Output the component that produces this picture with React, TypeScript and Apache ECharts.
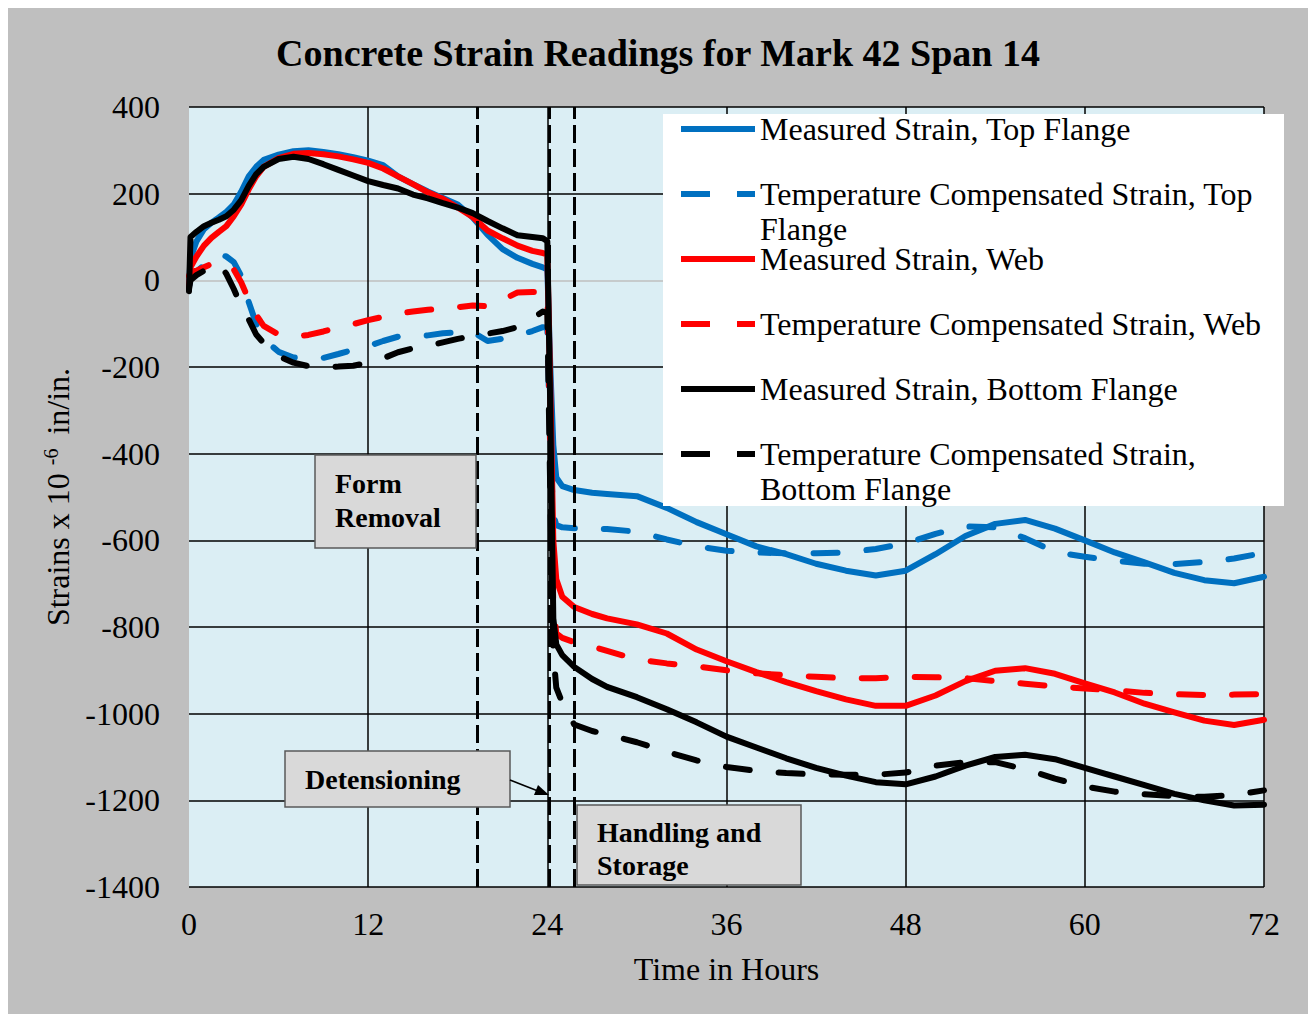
import { useEffect, useRef } from "react";
import * as echarts from "echarts";

// Elapsed time (hours) shared by every strain trace
const HOURS = [
  0, 0.1, 0.5, 1, 1.5, 2, 2.5, 3, 3.5, 4, 4.5, 5,
  6, 7, 8, 9, 10, 11, 12, 13, 14, 15, 16, 17, 18, 19, 20, 21, 22, 23,
  23.7, 24.0, 24.2, 24.4, 24.6, 25, 25.8,
  27, 28,
  30, 32, 34, 36, 38, 40, 42, 44, 46, 48, 50, 52, 54, 56, 58, 60, 62, 64, 66, 68, 70, 72,
];

// Strains x 10^-6 in/in.
const MEASURED_TOP = [
  -15, 50, 90, 118, 133, 145, 158, 175, 205, 240, 262, 278,
  290, 298, 300, 296, 291, 284, 276, 266, 240, 222, 205, 190, 175, 145, 105, 72, 52, 38,
  30, 25, -200, -380, -455, -475, -484,
  -490, -493,
  -498, -525, -558, -586, -614, -632, -654, -670, -681, -670, -632, -590, -562, -553, -573, -600, -628, -651, -675, -692, -699, -684,
];
const COMPENSATED_TOP = [
  -15, 5, 20, 35, 52, 60, 55, 42, 10, -50, -100, -135,
  -165, -178, -180, -179, -170, -160, -152, -140, -130, -130, -127, -122, -120, -119, -140, -135, -127, -117,
  -108, -110, -400, -540, -565, -570, -572,
  -573, -574,
  -580, -598, -614, -624, -628, -630, -630, -628, -620, -607, -585, -568, -570, -595, -627, -638, -647, -654, -655, -650, -642, -629,
];
const MEASURED_WEB = [
  -15, 30, 55, 80, 98, 112, 125, 148, 175, 210, 240, 262,
  282, 292, 294, 291, 286, 279, 271, 258, 240, 222, 203, 188, 168, 146, 115, 97, 80, 68,
  63, 60, -250, -600, -690, -730, -754,
  -770, -780,
  -794, -815, -852, -879, -904, -927, -948, -967, -982, -982, -958, -925, -901, -895, -908, -930, -951, -977, -997, -1016, -1026, -1014,
];
const COMPENSATED_WEB = [
  10, 20, 22, 30, 38, 42, 40, 25, -5, -45, -80, -105,
  -125, -130, -126, -118, -108, -101, -92, -84, -76, -72, -68, -65, -62, -58, -60, -45, -28, -27,
  -27, -30, -400, -750, -815, -825, -835,
  -845, -855,
  -875, -884, -891, -900, -907, -911, -915, -918, -918, -915, -916, -918, -925, -931, -937, -942, -946, -952, -955, -957, -956, -955,
];
const MEASURED_BOTTOM = [
  -25, 100, 112, 125, 133, 140, 148, 163, 185, 218, 245, 262,
  280, 285, 280, 268, 255, 242, 229, 220, 212, 198, 189, 178, 168, 155, 137, 120, 104, 100,
  97, 90, -300, -780, -840, -865, -892,
  -920, -938,
  -962, -990, -1020, -1053, -1078, -1103, -1125, -1143, -1158, -1163, -1145, -1120, -1100, -1095, -1105, -1125, -1145, -1165, -1185, -1200, -1212, -1210,
];
const COMPENSATED_BOTTOM = [
  -20, 0, 12, 22, 32, 38, 15, -20, -60, -90, -125, -145,
  -175, -190, -198, -200, -199, -197, -190, -180, -166, -157, -152, -143, -135, -129, -123, -117, -108, -88,
  -72, -75, -500, -860, -940, -975, -1025,
  -1040, -1048,
  -1066, -1088, -1108, -1123, -1132, -1137, -1140, -1141, -1141, -1136, -1120, -1112, -1112, -1128, -1150, -1168, -1180, -1186, -1190, -1192, -1188, -1177,
];

const SERIES_NAMES = [
  "Measured Strain, Top Flange",
  "Temperature Compensated Strain, Top Flange",
  "Measured Strain, Web",
  "Temperature Compensated Strain, Web",
  "Measured Strain, Bottom Flange",
  "Temperature Compensated Strain, Bottom Flange",
];
const LEGEND_FIRST_LINES = [
  "Measured Strain, Top Flange",
  "Temperature Compensated Strain, Top",
  "Measured Strain, Web",
  "Temperature Compensated Strain, Web",
  "Measured Strain, Bottom Flange",
  "Temperature Compensated Strain,",
];
const LEGEND_SECOND_LINES = ["", "Flange", "", "", "", "Bottom Flange"];

// Construction events: form removal, detensioning, handling and storage
const EVENT_HOURS = [19.3, 24.13, 25.8];

const BLUE = "#0070c0";
const RED = "#ff0000";
const BLACK = "#000000";
const FONT = "'Liberation Serif', 'Times New Roman', serif";

const TRACES = [
  { values: MEASURED_TOP, color: BLUE, dashed: false },
  { values: COMPENSATED_TOP, color: BLUE, dashed: true },
  { values: MEASURED_WEB, color: RED, dashed: false },
  { values: COMPENSATED_WEB, color: RED, dashed: true },
  { values: MEASURED_BOTTOM, color: BLACK, dashed: false },
  { values: COMPENSATED_BOTTOM, color: BLACK, dashed: true },
];

// Layout (px, relative to the chart container)
const GRID = { left: 181, top: 99, width: 1075, height: 780 };
const LEGEND_LEFT = 673;
const LEGEND_TOP = 105;
const LEGEND_ROW = 32;
const LEGEND_GAP = 33;
const LEGEND_ICON_W = 74;
const LINE_W = 6;

// legend swatches: a bar for solid traces, two bars for dashed ones
const SOLID_ICON = "path://M0,0h74v6h-74z";
const DASHED_ICON = "path://M0,0h29v6h-29zM56,0h18v6h-18z";

export default function App() {
  const ref = useRef<HTMLDivElement>(null);

  useEffect(() => {
    const chart = echarts.init(ref.current!, undefined, { renderer: "svg" });

    // y split lines run from -1400 upward; the zero line is drawn grey
    const splitColors = [-1400, -1200, -1000, -800, -600, -400, -200, 0, 200, 400].map((v) =>
      v === 0 ? "#bfbfbf" : "#000000"
    );

    const series: any[] = TRACES.map((t, i) => ({
      name: SERIES_NAMES[i],
      type: "line",
      data: HOURS.map((h, k) => [h, t.values[k]]),
      symbol: "none",
      showSymbol: false,
      color: t.color,
      itemStyle: { color: t.color },
      lineStyle: {
        color: t.color,
        width: LINE_W,
        cap: "round",
        join: "round",
        type: t.dashed ? [24, 29] : "solid",
      },
      z: 2,
    }));

    series.push({
      name: "events",
      type: "line",
      data: [],
      silent: true,
      markLine: {
        silent: true,
        symbol: ["none", "none"],
        label: { show: false },
        lineStyle: { color: "#000", width: 3, type: [18, 6] },
        data: EVENT_HOURS.map((h) => ({ xAxis: h })),
        z: 3,
      },
    });

    const boxStyle = { fill: "#d9d9d9", stroke: "#595959", lineWidth: 1.5 };
    const noteFont = { fontFamily: FONT, fontSize: 28, fontWeight: "bold", fill: "#000" };

    const legendTexts = LEGEND_SECOND_LINES.map((txt, i) => ({
      type: "text",
      z: 20,
      style: {
        text: txt,
        x: LEGEND_LEFT + LEGEND_ICON_W + 5,
        y: LEGEND_TOP + LEGEND_ROW / 2 + i * (LEGEND_ROW + LEGEND_GAP) + 35,
        fontFamily: FONT,
        fontSize: 32,
        lineHeight: 28,
        fill: "#000",
        verticalAlign: "middle",
      },
    })).filter((e) => e.style.text);

    const option: any = {
      animation: false,
      backgroundColor: "#bfbfbf",
      title: {
        text: "Concrete Strain Readings for Mark 42 Span 14",
        left: "center",
        top: 26,
        padding: 0,
        textStyle: { fontFamily: FONT, fontSize: 38, fontWeight: "bold", color: "#000" },
      },
      grid: {
        ...GRID,
        show: true,
        backgroundColor: "#dbeef4",
        borderWidth: 0,
        containLabel: false,
      },
      legend: {
        orient: "vertical",
        left: LEGEND_LEFT,
        top: LEGEND_TOP,
        padding: 0,
        itemWidth: LEGEND_ICON_W,
        itemHeight: LINE_W,
        itemGap: LEGEND_GAP,
        selectedMode: false,
        data: SERIES_NAMES.map((name, i) => ({
          name,
          icon: TRACES[i].dashed ? DASHED_ICON : SOLID_ICON,
          itemStyle: { color: TRACES[i].color, borderWidth: 0 },
        })),
        formatter: (name: string) => LEGEND_FIRST_LINES[SERIES_NAMES.indexOf(name)],
        textStyle: { fontFamily: FONT, fontSize: 32, color: "#000", lineHeight: LEGEND_ROW },
        z: 10,
      },
      xAxis: {
        type: "value",
        min: 0,
        max: 72,
        interval: 12,
        name: "Time in Hours",
        nameLocation: "middle",
        nameGap: 66,
        nameTextStyle: { fontFamily: FONT, fontSize: 32, color: "#000" },
        axisLine: { show: false },
        axisTick: { show: false },
        axisLabel: { fontFamily: FONT, fontSize: 32, color: "#000", margin: 21 },
        splitLine: { show: true, showMinLine: false, lineStyle: { color: "#000", width: 1.5 } },
      },
      yAxis: {
        type: "value",
        min: -1400,
        max: 400,
        interval: 200,
        name: "{a|Strains x 10 }{s|-6}{a| in/in.}",
        nameLocation: "middle",
        nameGap: 98,
        nameTextStyle: {
          rich: {
            a: { fontFamily: FONT, fontSize: 32, color: "#000", lineHeight: 34 },
            s: { fontFamily: FONT, fontSize: 20, color: "#000", lineHeight: 34, verticalAlign: "top", padding: [0, 6, 0, 0] },
          },
        },
        axisLine: { show: false },
        axisTick: { show: false },
        axisLabel: {
          fontFamily: FONT,
          fontSize: 32,
          color: "#000",
          margin: 29,
          formatter: (v: number) => String(v),
        },
        splitLine: { show: true, lineStyle: { color: splitColors, width: 1.5 } },
      },
      graphic: [
        // legend panel
        { type: "rect", z: 5, shape: { x: 655, y: 106, width: 621, height: 392 }, style: { fill: "#ffffff" } },
        ...legendTexts,
        // Form Removal note
        { type: "rect", z: 20, shape: { x: 307, y: 447, width: 161, height: 93 }, style: boxStyle },
        { type: "text", z: 21, style: { ...noteFont, text: "Form\nRemoval", x: 327, y: 458, lineHeight: 34, verticalAlign: "top" } },
        // Detensioning note with arrow
        { type: "rect", z: 20, shape: { x: 277, y: 743, width: 225, height: 56 }, style: boxStyle },
        { type: "text", z: 21, style: { ...noteFont, text: "Detensioning", x: 297, y: 771, verticalAlign: "middle" } },
        { type: "line", z: 21, shape: { x1: 502, y1: 772, x2: 530, y2: 783 }, style: { stroke: "#000", lineWidth: 1.5 } },
        { type: "polygon", z: 21, shape: { points: [[541, 787], [526, 787], [530, 777]] }, style: { fill: "#000" } },
        // Handling and Storage note
        { type: "rect", z: 20, shape: { x: 569, y: 797, width: 224, height: 80 }, style: boxStyle },
        { type: "text", z: 21, style: { ...noteFont, text: "Handling and\nStorage", x: 589, y: 808, lineHeight: 33, verticalAlign: "top" } },
      ],
      series,
    };

    chart.setOption(option);
    return () => chart.dispose();
  }, []);

  return (
    <div
      ref={ref}
      style={{ position: "fixed", left: 8, top: 8, width: 1300, height: 1006 }}
    />
  );
}
